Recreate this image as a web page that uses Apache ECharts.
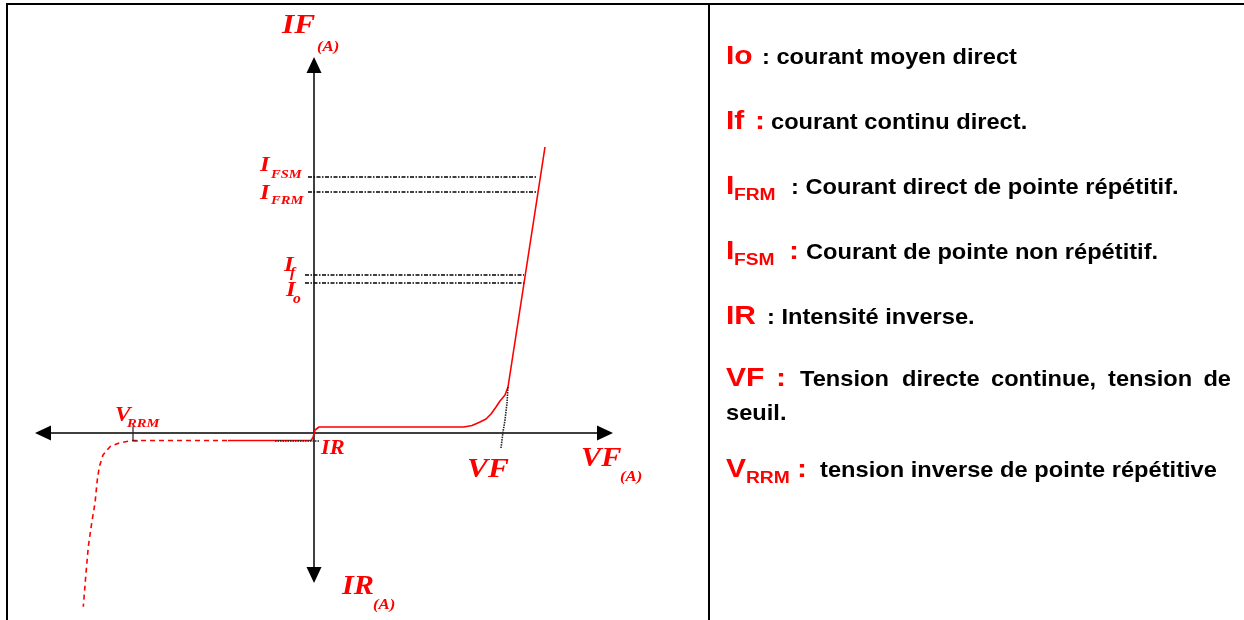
<!DOCTYPE html>
<html>
<head>
<meta charset="utf-8">
<script src="https://cdn.jsdelivr.net/npm/echarts@6/dist/echarts.min.js"></script>
<style>
html,body{margin:0;padding:0;background:#fff;}
#c{width:1244px;height:620px;}
</style>
</head>
<body>
<div id="c"></div>
<script>
// ---- Data (schematic units: voltage on x, current on y) ----
// Forward branch + reverse leakage (solid red)
const forwardV = [-8.6, -0.3, -0.1, 0.1, 0.5, 15.0, 15.8, 16.6, 17.2, 17.7, 18.2, 18.6, 19.1, 19.4, 23.1];
const forwardI = [-0.75, -0.75, -0.45, 0.3, 0.6, 0.6, 0.75, 1.1, 1.4, 1.9, 2.6, 3.2, 3.8, 4.6, 28.6];
// Reverse breakdown branch (dashed red)
const reverseV = [-8.7, -18.1, -19.4, -20.4, -21.1, -21.47, -21.67, -21.9, -22.23, -22.57, -22.8, -23.07];
const reverseI = [-0.75, -0.75, -0.97, -1.37, -2.2, -3.37, -4.7, -7.0, -9.0, -11.37, -14.0, -17.37];
// Reference current levels (dash-dot black)
const levelNames = ['IFSM', 'IFRM', 'If', 'Io'];
const levelCurrent = [25.6, 24.1, 15.8, 15.0];
const levelFromV = [-0.6, -0.6, -0.9, -0.9];
const levelToV = [22.3, 22.3, 21.0, 21.1];
// Marker for IR (dotted)
const irMarkV = [-3.9, 0.6];
const irMarkI = [-0.8, -0.8];
// Marker for VF (dotted)
const vfMarkV = [19.4, 19.3, 19.1, 18.9, 18.7];
const vfMarkI = [4.6, 3.0, 1.3, 0.1, -1.5];
// Marker for VRRM (solid)
const vrrmMarkV = [-18.1, -18.1, -17.6];
const vrrmMarkI = [0.65, -0.8, -0.8];
// Axis extents
const vMin = -27.1, vMax = 29.1, iMin = -14.2, iMax = 36.8;

// Annotation labels: [text, voltage, current, fontSize]
const annotations = [
  ['IF', -3.2, 40.7, 28], ['(A)', 0.3, 38.6, 15],
  ['VF', 26.7, -2.6, 27], ['(A)', 30.6, -4.4, 15],
  ['IR', 2.8, -15.4, 27], ['(A)', 5.9, -17.2, 15],
  ['VF', 15.3, -3.7, 28],
  ['IR', 0.7, -1.6, 20],
  ['V', -19.9, 1.75, 21], ['RRM', -18.7, 0.95, 13],
  ['I', -5.4, 26.8, 22], ['FSM', -4.3, 25.85, 13],
  ['I', -5.4, 23.95, 22], ['FRM', -4.3, 23.2, 13],
  ['I', -3.0, 16.8, 22], ['f', -2.4, 16.0, 14],
  ['I', -2.8, 14.3, 22], ['o', -2.1, 13.4, 14]
];

// Right panel text: [text, x, baseline, kind]
const legendItems = [
  ['Io', 726, 66, 'r'], [': courant moyen direct', 762, 66, 'b'],
  ['If', 726, 131, 'r'], [':', 755, 131, 'r'], ['courant continu direct.', 771, 131, 'b'],
  ['I', 726, 196, 'r'], ['FRM', 734, 201, 's'], [': Courant direct de pointe répétitif.', 791, 196, 'b'],
  ['I', 726, 261, 'r'], ['FSM', 734, 266, 's'], [':', 789, 261, 'r'], ['Courant de pointe non répétitif.', 806, 261, 'b'],
  ['IR', 726, 326, 'r'], [': Intensité inverse.', 767, 326, 'b'],
  ['VF', 726, 388, 'r'], [':', 776, 388, 'r'],
  ['Tension', 800, 388, 'b'], ['directe', 902, 388, 'b'], ['continue,', 991, 388, 'b'], ['tension', 1108, 388, 'b'], ['de', 1231, 388, 'bR'],
  ['seuil.', 726, 422, 'b'],
  ['V', 726, 479, 'r'], ['RRM', 746, 484, 's'], [':', 797, 479, 'r'], ['tension inverse de pointe répétitive', 820, 479, 'b']
];

const zip = (a, b) => a.map((v, k) => [v, b[k]]);
const RED = '#ff0000';
const chart = echarts.init(document.getElementById('c'));

const lineBase = {type: 'line', showSymbol: false, symbol: 'none', clip: false, silent: true, animation: false};
const series = [];
levelNames.forEach((n, k) => {
  series.push(Object.assign({}, lineBase, {
    name: n,
    data: [[levelFromV[k], levelCurrent[k]], [levelToV[k], levelCurrent[k]]],
    lineStyle: {color: '#000', width: 1.6, type: [4, 1.5, 1.5, 1.5]}
  }));
});
series.push(Object.assign({}, lineBase, {name: 'direct', data: zip(forwardV, forwardI), lineStyle: {color: RED, width: 1.6}}));
series.push(Object.assign({}, lineBase, {name: 'inverse', data: zip(reverseV, reverseI), lineStyle: {color: RED, width: 1.6, type: [5, 4]}}));
series.push(Object.assign({}, lineBase, {name: 'IRmark', data: zip(irMarkV, irMarkI), lineStyle: {color: '#222', width: 1.6, type: [1.5, 1]}}));
series.push(Object.assign({}, lineBase, {name: 'VFmark', data: zip(vfMarkV, vfMarkI), lineStyle: {color: '#222', width: 1.6, type: [1.5, 1]}}));
series.push(Object.assign({}, lineBase, {name: 'VRRMmark', data: zip(vrrmMarkV, vrrmMarkI), lineStyle: {color: '#222', width: 1.2}}));

const axisCommon = {
  type: 'value',
  axisLine: {show: true, onZero: true, symbol: ['triangle', 'triangle'], symbolSize: [15, 16], lineStyle: {color: '#000', width: 1.5}},
  axisTick: {show: false}, axisLabel: {show: false}, splitLine: {show: false}
};

chart.setOption({
  animation: false,
  backgroundColor: '#fff',
  grid: {left: 43, right: 639, top: 65, bottom: 45},
  xAxis: Object.assign({}, axisCommon, {min: vMin, max: vMax}),
  yAxis: Object.assign({}, axisCommon, {min: iMin, max: iMax}),
  series: series
});

const graphics = [
  {type: 'line', shape: {x1: 7, y1: 3, x2: 7, y2: 620}, style: {stroke: '#000', lineWidth: 2}},
  {type: 'line', shape: {x1: 6, y1: 4, x2: 1244, y2: 4}, style: {stroke: '#000', lineWidth: 2}},
  {type: 'line', shape: {x1: 709, y1: 4, x2: 709, y2: 620}, style: {stroke: '#000', lineWidth: 2}}
];
annotations.forEach(a => {
  const p = chart.convertToPixel({gridIndex: 0}, [a[1], a[2]]);
  graphics.push({
    type: 'text', x: p[0], y: p[1], scaleX: 1.12,
    style: {text: a[0], fill: RED, font: 'italic bold ' + a[3] + 'px "Liberation Serif"', align: 'left', verticalAlign: 'middle'}
  });
});
const kinds = {r: [25, 1.2, RED], s: [16, 1.2, RED], b: [21.5, 1.1, '#000'], bR: [21.5, 1.1, '#000']};
legendItems.forEach(t => {
  const k = kinds[t[3]];
  graphics.push({
    type: 'text', x: t[1], y: t[2] - 0.35 * k[0], scaleX: k[1],
    style: {text: t[0], fill: k[2], font: 'bold ' + k[0] + 'px "Liberation Sans"', align: t[3] === 'bR' ? 'right' : 'left', verticalAlign: 'middle'}
  });
});
chart.setOption({graphic: graphics});
</script>
</body>
</html>
